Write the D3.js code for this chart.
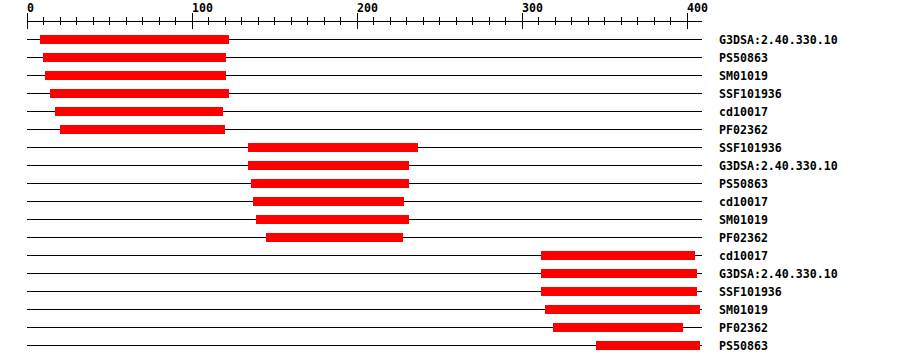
<!DOCTYPE html>
<html lang="en">
<head>
  <meta charset="UTF-8">
  <title>Domain hits</title>
  <script src="https://cdn.jsdelivr.net/npm/d3@7"></script>
  <style>
    body {
      margin: 0;
      background: #fff;
    }
    svg {
      display: block;
    }
    text {
      font-family: "DejaVu Sans Mono", monospace;
      font-weight: bold;
      font-size: 11.6px;
    }
  </style>
</head>
<body>
  <svg></svg>
  <script>
    // hit names, start and end residues, top to bottom
    const names = [
      'G3DSA:2.40.330.10', 'PS50863', 'SM01019', 'SSF101936', 'cd10017', 'PF02362',
      'SSF101936', 'G3DSA:2.40.330.10', 'PS50863', 'cd10017', 'SM01019', 'PF02362',
      'cd10017', 'G3DSA:2.40.330.10', 'SSF101936', 'SM01019', 'PF02362', 'PS50863'
    ];
    const starts = [8, 10, 11, 14, 17, 20, 134, 134, 136, 137, 139, 145, 312, 312, 312, 314, 319, 345];
    const ends = [123, 121, 121, 123, 119, 120, 237, 232, 232, 229, 232, 228, 405, 406, 406, 408, 398, 408];
    const seqLength = 409;

    const width = 900;
    const height = 364;

    const rows = names.map((name, i) => ({ name, start: starts[i], end: ends[i], i }));

    const x = d3.scaleLinear()
      .domain([0, seqLength])
      .range([26.5, 701.5]);

    const y = d3.scalePoint()
      .domain(d3.range(rows.length))
      .range([39.5, 345.5]);

    const svg = d3.select('svg')
      .attr('width', width)
      .attr('height', height)
      .attr('viewBox', [0, 0, width, height]);

    // ruler on top
    const axisY = 21.5;
    const ruler = svg.append('g')
      .attr('stroke', '#000')
      .attr('shape-rendering', 'crispEdges');

    ruler.append('line')
      .attr('x1', x(0))
      .attr('x2', x(seqLength))
      .attr('y1', axisY)
      .attr('y2', axisY);

    const ticks = x.ticks(41);
    ruler.selectAll('line.tick')
      .data(ticks)
      .join('line')
      .attr('class', 'tick')
      .attr('x1', d => Math.round(x(d)) + 0.5)
      .attr('x2', d => Math.round(x(d)) + 0.5)
      .attr('y1', d => d % 100 === 0 ? 13 : 17)
      .attr('y2', d => d % 100 === 0 ? 29 : 25);

    svg.append('g')
      .selectAll('text')
      .data(ticks.filter(d => d % 100 === 0))
      .join('text')
      .attr('x', d => Math.round(x(d)))
      .attr('y', 12)
      .attr('text-anchor', 'start')
      .text(d => d);

    // one track per hit
    const track = svg.append('g')
      .attr('shape-rendering', 'crispEdges')
      .selectAll('g')
      .data(rows)
      .join('g');

    track.append('line')
      .attr('x1', x(0))
      .attr('x2', x(seqLength))
      .attr('y1', d => y(d.i))
      .attr('y2', d => y(d.i))
      .attr('stroke', '#000');

    track.append('rect')
      .attr('x', d => x(d.start))
      .attr('width', d => x(d.end) - x(d.start))
      .attr('y', d => y(d.i) - 4.5)
      .attr('height', 9)
      .attr('fill', '#ff0000');

    track.append('text')
      .attr('x', 719)
      .attr('y', d => y(d.i))
      .attr('dy', '0.35em')
      .text(d => d.name);
  </script>
</body>
</html>
